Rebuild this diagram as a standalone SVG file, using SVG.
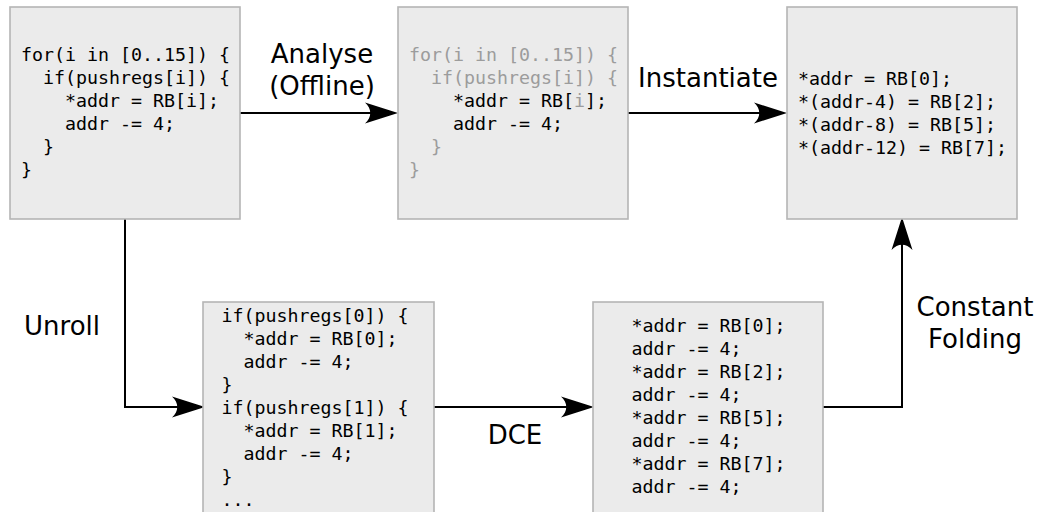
<svg xmlns="http://www.w3.org/2000/svg" width="1042" height="512" viewBox="0 0 1042 512">
<style>
.box{fill:#ebebeb;stroke:#b5b5b5;stroke-width:1.6}
.code{font-family:"DejaVu Sans Mono","Liberation Mono",monospace;font-size:18.3px;fill:#000}
.dim{fill:#9c9c9c}
.lbl{font-family:"DejaVu Sans","Liberation Sans",sans-serif;font-size:26px;fill:#000;text-anchor:middle}
.conn{fill:none;stroke:#000;stroke-width:2}
</style>
<defs>
<marker id="ah" markerUnits="userSpaceOnUse" orient="auto" overflow="visible" refX="0" refY="0" markerWidth="1" markerHeight="1">
<path d="M20,0 L-13,-10.5 C-6,-4 -6,4 -13,10.5 Z" fill="#000"/>
</marker>
</defs>
<rect width="1042" height="512" fill="#fff"/>
<g id="connectors">
<path class="conn" d="M240,113 H378" marker-end="url(#ah)"/>
<path class="conn" d="M628,113 H767" marker-end="url(#ah)"/>
<path class="conn" d="M125,219 V407 H185" marker-end="url(#ah)"/>
<path class="conn" d="M434,407 H574" marker-end="url(#ah)"/>
<path class="conn" d="M823,407 H902 V237" marker-end="url(#ah)"/>
<text class="lbl" x="322" y="63">Analyse</text>
<text class="lbl" x="322" y="95">(Offline)</text>
<text class="lbl" x="708" y="87">Instantiate</text>
<text class="lbl" x="62" y="335">Unroll</text>
<text class="lbl" x="515" y="444">DCE</text>
<text class="lbl" x="975" y="316">Constant</text>
<text class="lbl" x="975" y="348">Folding</text>
</g>
<g id="loop">
<rect class="box" x="10" y="7" width="230" height="212"/>
<text class="code" xml:space="preserve"><tspan x="21" y="61">for(i in [0..15]) {</tspan><tspan x="21" y="84">  if(pushregs[i]) {</tspan><tspan x="21" y="107">    *addr = RB[i];</tspan><tspan x="21" y="130">    addr -= 4;</tspan><tspan x="21" y="153">  }</tspan><tspan x="21" y="176">}</tspan></text>
</g>
<g id="analysed">
<rect class="box" x="398" y="7" width="230" height="212"/>
<text class="code" xml:space="preserve"><tspan x="409" y="61" class="dim">for(i in [0..15]) {</tspan><tspan x="409" y="84" class="dim">  if(pushregs[i]) {</tspan><tspan x="409" y="107">    *addr = RB[<tspan class="dim">i</tspan>];</tspan><tspan x="409" y="130">    addr -= 4;</tspan><tspan x="409" y="153" class="dim">  }</tspan><tspan x="409" y="176" class="dim">}</tspan></text>
</g>
<g id="instantiated">
<rect class="box" x="787" y="7" width="230" height="212"/>
<text class="code" xml:space="preserve"><tspan x="798" y="85">*addr = RB[0];</tspan><tspan x="798" y="108">*(addr-4) = RB[2];</tspan><tspan x="798" y="131">*(addr-8) = RB[5];</tspan><tspan x="798" y="154">*(addr-12) = RB[7];</tspan></text>
</g>
<g id="unrolled">
<rect class="box" x="203" y="302" width="231" height="230"/>
<text class="code" xml:space="preserve"><tspan x="221.5" y="322">if(pushregs[0]) {</tspan><tspan x="221.5" y="345">  *addr = RB[0];</tspan><tspan x="221.5" y="368">  addr -= 4;</tspan><tspan x="221.5" y="391">}</tspan><tspan x="221.5" y="414">if(pushregs[1]) {</tspan><tspan x="221.5" y="437">  *addr = RB[1];</tspan><tspan x="221.5" y="460">  addr -= 4;</tspan><tspan x="221.5" y="483">}</tspan><tspan x="221.5" y="506">...</tspan></text>
</g>
<g id="dce">
<rect class="box" x="593" y="302" width="230" height="230"/>
<text class="code" xml:space="preserve"><tspan x="631.5" y="332">*addr = RB[0];</tspan><tspan x="631.5" y="355">addr -= 4;</tspan><tspan x="631.5" y="378">*addr = RB[2];</tspan><tspan x="631.5" y="401">addr -= 4;</tspan><tspan x="631.5" y="424">*addr = RB[5];</tspan><tspan x="631.5" y="447">addr -= 4;</tspan><tspan x="631.5" y="470">*addr = RB[7];</tspan><tspan x="631.5" y="493">addr -= 4;</tspan></text>
</g>
</svg>
